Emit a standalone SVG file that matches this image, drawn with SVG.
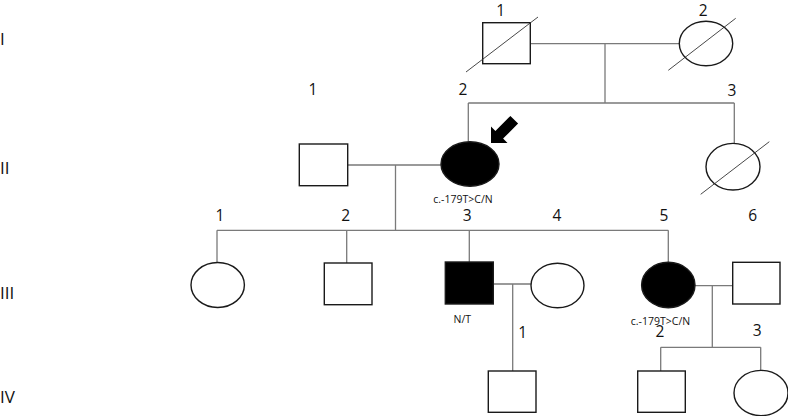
<svg xmlns="http://www.w3.org/2000/svg" width="788" height="416" viewBox="0 0 788 416">
<style>
.s{fill:#fff;stroke:#1a1a1a;stroke-width:1.4}
.f{fill:#000;stroke:#1a1a1a;stroke-width:1.4}
.d{stroke:#333;stroke-width:0.9;fill:none}
.c{stroke:#7a7a7a;stroke-width:1.3;fill:none}
.n{font-family:"Open Sans","Liberation Sans",sans-serif;font-size:15.5px;fill:#111;text-anchor:middle}
.g{font-family:"Open Sans","Liberation Sans",sans-serif;font-size:17px;fill:#111}
.t{font-family:"Open Sans","Liberation Sans",sans-serif;font-size:10.5px;fill:#111;text-anchor:middle}
</style>
<rect width="788" height="416" fill="#fff"/>
<g id="generations">
<text class="g" x="0" y="45">I</text>
<text class="g" x="0" y="174">II</text>
<text class="g" x="0" y="299">III</text>
<text class="g" x="0" y="403">IV</text>
</g>
<g id="connectors">
<path class="c" d="M530,43.7H679.3M605,43.7V103M468.3,103H734.3M468.3,103V141.7M734.3,103V143.3"/>
<path class="c" d="M347.7,165H441M395.5,165V230.3M217,230.3H668.3M217,230.3V262.7M346.7,230.3V263M469.3,230.3V262M668.3,230.3V262.3"/>
<path class="c" d="M493.3,284H531M512.7,284V371M695,285.7H732.7M712.3,285.7V347.3M660.7,347.3H760.7M660.7,347.3V371M760.7,347.3V370"/>
</g>
<g id="I-1"><rect class="s" x="482.7" y="22.7" width="47.6" height="41"/><line class="d" x1="466" y1="72" x2="538" y2="17"/><text class="n" x="500.7" y="16">1</text></g>
<g id="I-2"><ellipse class="s" cx="706" cy="43.5" rx="26.7" ry="22.3"/><line class="d" x1="668.3" y1="70.3" x2="735.7" y2="18.3"/><text class="n" x="703.3" y="16">2</text></g>
<g id="II-1"><rect class="s" x="299.3" y="144" width="48.4" height="41.7"/><text class="n" x="313" y="95">1</text></g>
<g id="II-2"><ellipse class="f" cx="470" cy="164" rx="29" ry="22.2"/><text class="n" x="463" y="95">2</text><text class="t" x="463" y="203">c.-179T&gt;C/N</text></g>
<g id="arrow"><polygon fill="#000" points="491,143 491,126.5 495.4,130.9 510.4,115.9 518.1,123.6 503.1,138.6 507.5,143"/></g>
<g id="II-3"><ellipse class="s" cx="733" cy="166.7" rx="27" ry="23.3"/><line class="d" x1="700.7" y1="194.3" x2="769.3" y2="141.7"/><text class="n" x="732" y="96">3</text></g>
<g id="III-1"><ellipse class="s" cx="217.7" cy="285" rx="26.7" ry="22.5"/><text class="n" x="220" y="221">1</text></g>
<g id="III-2"><rect class="s" x="324.3" y="263" width="47.7" height="41.7"/><text class="n" x="345.7" y="221">2</text></g>
<g id="III-3"><rect class="f" x="445.3" y="262" width="48" height="42"/><text class="n" x="467.3" y="221">3</text><text class="t" x="462.3" y="323">N/T</text></g>
<g id="III-4"><ellipse class="s" cx="557.5" cy="285.5" rx="26.5" ry="22.2"/><text class="n" x="557" y="221">4</text></g>
<g id="III-5"><ellipse class="f" cx="668.3" cy="285" rx="26.7" ry="22.7"/><text class="n" x="664" y="221">5</text><text class="t" x="660.5" y="325">c.-179T&gt;C/N</text></g>
<g id="III-6"><rect class="s" x="732.7" y="262.3" width="47.3" height="41.7"/><text class="n" x="752.7" y="221">6</text></g>
<g id="IV-1"><rect class="s" x="488.3" y="371" width="47.7" height="41.3"/><text class="n" x="522.7" y="337.5">1</text></g>
<g id="IV-2"><rect class="s" x="637.7" y="371" width="47.6" height="41.3"/><text class="n" x="660" y="336.5">2</text></g>
<g id="IV-3"><ellipse class="s" cx="761" cy="393" rx="27" ry="22.6"/><text class="n" x="757.3" y="335.5">3</text></g>
</svg>
